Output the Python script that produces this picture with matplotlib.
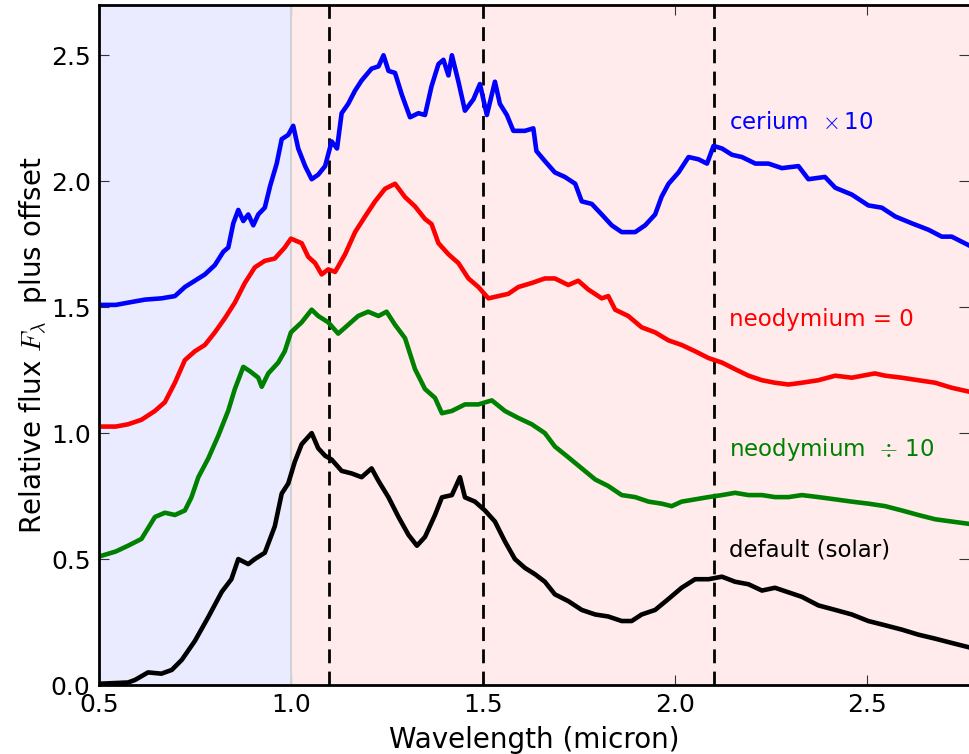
import matplotlib.pyplot as plt

plt.rcParams['mathtext.fontset'] = 'cm'

wl_solar = [0.5, 0.576, 0.594, 0.628, 0.663, 0.69, 0.716, 0.75, 0.785, 0.82, 0.845, 0.863,
            0.889, 0.906, 0.932, 0.958, 0.976, 0.993, 1.01, 1.028, 1.054, 1.071, 1.089,
            1.106, 1.132, 1.158, 1.184, 1.21, 1.228, 1.254, 1.28, 1.306, 1.328, 1.349,
            1.375, 1.393, 1.419, 1.44, 1.453, 1.479, 1.505, 1.531, 1.557, 1.583, 1.609,
            1.635, 1.661, 1.687, 1.722, 1.757, 1.792, 1.826, 1.861, 1.887, 1.913, 1.948,
            1.983, 2.017, 2.052, 2.087, 2.122, 2.156, 2.191, 2.226, 2.26, 2.295, 2.33,
            2.373, 2.417, 2.46, 2.503, 2.547, 2.59, 2.633, 2.677, 2.72, 2.764]
flux_solar = [0.005, 0.01, 0.02, 0.05, 0.045, 0.06, 0.1, 0.175, 0.27, 0.37, 0.42, 0.5,
              0.48, 0.5, 0.525, 0.63, 0.76, 0.8, 0.886, 0.956, 1.0, 0.94, 0.91,
              0.895, 0.85, 0.84, 0.825, 0.86, 0.81, 0.745, 0.667, 0.596, 0.553, 0.588,
              0.675, 0.745, 0.754, 0.825, 0.745, 0.728, 0.693, 0.649, 0.57, 0.5, 0.465,
              0.44, 0.41, 0.36, 0.333, 0.298, 0.28, 0.272, 0.254, 0.254, 0.28, 0.298,
              0.342, 0.386, 0.42, 0.42, 0.43, 0.41, 0.4, 0.375, 0.386, 0.368, 0.35,
              0.316, 0.298, 0.28, 0.254, 0.237, 0.22, 0.2, 0.184, 0.167, 0.15]

wl_nd_div = [0.5, 0.544, 0.576, 0.611, 0.646, 0.672, 0.698, 0.724, 0.741, 0.759, 0.785,
             0.811, 0.837, 0.854, 0.876, 0.894, 0.915, 0.924, 0.941, 0.967, 0.984, 1.0,
             1.028, 1.054, 1.071, 1.097, 1.123, 1.149, 1.175, 1.201, 1.228, 1.249, 1.271,
             1.297, 1.323, 1.349, 1.375, 1.393, 1.419, 1.453, 1.488, 1.523, 1.557, 1.592,
             1.627, 1.661, 1.687, 1.722, 1.757, 1.792, 1.826, 1.861, 1.896, 1.931, 1.965,
             1.991, 2.017, 2.052, 2.087, 2.122, 2.156, 2.191, 2.226, 2.26, 2.295, 2.33,
             2.373, 2.417, 2.46, 2.503, 2.547, 2.59, 2.633, 2.677, 2.72, 2.764]
flux_nd_div = [0.51, 0.53, 0.553, 0.58, 0.667, 0.684, 0.675, 0.693, 0.745, 0.825, 0.9,
               0.99, 1.09, 1.175, 1.263, 1.245, 1.22, 1.184, 1.237, 1.28, 1.325, 1.4,
               1.44, 1.49, 1.465, 1.44, 1.395, 1.43, 1.465, 1.482, 1.465, 1.482, 1.43,
               1.377, 1.254, 1.175, 1.14, 1.079, 1.088, 1.114, 1.114, 1.13, 1.088, 1.06,
               1.035, 1.0, 0.947, 0.904, 0.86, 0.816, 0.79, 0.754, 0.746, 0.728, 0.72,
               0.71, 0.728, 0.737, 0.746, 0.754, 0.763, 0.754, 0.754, 0.746, 0.746, 0.754,
               0.746, 0.737, 0.728, 0.72, 0.71, 0.693, 0.675, 0.658, 0.649, 0.64]

wl_nd_zero = [0.5, 0.544, 0.576, 0.611, 0.646, 0.672, 0.698, 0.724, 0.75, 0.776, 0.802,
              0.828, 0.854, 0.88, 0.906, 0.932, 0.958, 0.984, 1.0, 1.028, 1.045, 1.063,
              1.08, 1.097, 1.115, 1.141, 1.167, 1.193, 1.219, 1.245, 1.271, 1.297, 1.323,
              1.349, 1.366, 1.384, 1.41, 1.436, 1.462, 1.488, 1.514, 1.54, 1.566, 1.592,
              1.627, 1.661, 1.687, 1.722, 1.748, 1.774, 1.809, 1.826, 1.844, 1.878, 1.913,
              1.948, 1.983, 2.017, 2.052, 2.087, 2.122, 2.156, 2.191, 2.226, 2.26, 2.295,
              2.33, 2.373, 2.417, 2.46, 2.52, 2.547, 2.59, 2.633, 2.677, 2.72, 2.764]
flux_nd_zero = [1.026, 1.026, 1.035, 1.053, 1.088, 1.123, 1.2, 1.29, 1.325, 1.35, 1.4,
                1.456, 1.518, 1.596, 1.658, 1.684, 1.693, 1.737, 1.772, 1.754, 1.7, 1.675,
                1.63, 1.65, 1.64, 1.71, 1.798, 1.86, 1.92, 1.97, 1.99, 1.937, 1.9,
                1.85, 1.83, 1.754, 1.71, 1.675, 1.614, 1.58, 1.535, 1.544, 1.553, 1.58,
                1.596, 1.614, 1.614, 1.588, 1.605, 1.57, 1.535, 1.544, 1.49, 1.465, 1.42,
                1.4, 1.368, 1.35, 1.325, 1.298, 1.28, 1.254, 1.228, 1.21, 1.2, 1.193,
                1.2, 1.21, 1.228, 1.22, 1.237, 1.228, 1.22, 1.21, 1.2, 1.18, 1.165]

wl_ce = [0.5, 0.544, 0.576, 0.62, 0.663, 0.698, 0.724, 0.75, 0.776, 0.802, 0.824, 0.837,
         0.85, 0.863, 0.876, 0.889, 0.902, 0.915, 0.932, 0.946, 0.963, 0.976, 0.993,
         1.006, 1.019, 1.037, 1.054, 1.071, 1.089, 1.106, 1.12, 1.132, 1.149, 1.167,
         1.184, 1.21, 1.228, 1.241, 1.254, 1.271, 1.289, 1.31, 1.332, 1.349, 1.366,
         1.384, 1.397, 1.41, 1.419, 1.436, 1.453, 1.475, 1.492, 1.51, 1.531, 1.544,
         1.562, 1.579, 1.609, 1.631, 1.639, 1.661, 1.687, 1.713, 1.74, 1.757, 1.783,
         1.809, 1.835, 1.861, 1.896, 1.922, 1.948, 1.965, 1.983, 2.009, 2.035, 2.061,
         2.083, 2.1, 2.122, 2.148, 2.174, 2.209, 2.243, 2.278, 2.321, 2.347, 2.39,
         2.417, 2.46, 2.503, 2.538, 2.573, 2.616, 2.66, 2.694, 2.72, 2.764]
flux_ce = [1.509, 1.509, 1.518, 1.53, 1.535, 1.544, 1.58, 1.605, 1.63, 1.667, 1.72, 1.737,
           1.833, 1.886, 1.842, 1.868, 1.825, 1.868, 1.895, 1.982, 2.07, 2.167, 2.184,
           2.22, 2.13, 2.06, 2.008, 2.026, 2.06, 2.158, 2.13, 2.27, 2.307, 2.36,
           2.4, 2.447, 2.456, 2.5, 2.438, 2.43, 2.342, 2.254, 2.27, 2.263, 2.377,
           2.465, 2.482, 2.42, 2.5, 2.395, 2.28, 2.325, 2.386, 2.263, 2.395, 2.307,
           2.263, 2.2, 2.2, 2.21, 2.12, 2.08, 2.035, 2.017, 1.99, 1.92, 1.91,
           1.868, 1.825, 1.798, 1.798, 1.825, 1.868, 1.939, 1.99, 2.035, 2.096, 2.087,
           2.07, 2.14, 2.13, 2.105, 2.096, 2.07, 2.07, 2.052, 2.06, 2.008, 2.017,
           1.974, 1.947, 1.904, 1.895, 1.86, 1.833, 1.807, 1.78, 1.78, 1.746]

feature_lines = [1.1, 1.5, 2.1]

fig = plt.figure(figsize=(9.69, 7.54), dpi=100)
ax = fig.add_axes([0.102, 0.0915, 0.898, 0.902])

# optical / infrared shading
ax.axvspan(0.5, 1.0, color='blue', alpha=0.08, lw=0)
ax.axvspan(1.0, 3.0, color='red', alpha=0.08, lw=0)
ax.axvline(1.0, color='lightgray', lw=1.5)

for xv in feature_lines:
    ax.axvline(xv, color='k', ls=(0, (5, 3)), lw=2)

ax.plot(wl_ce, flux_ce, color='b', lw=3.3)
ax.plot(wl_nd_zero, flux_nd_zero, color='r', lw=3.3)
ax.plot(wl_nd_div, flux_nd_div, color='g', lw=3.3)
ax.plot(wl_solar, flux_solar, color='k', lw=3.3)

ax.text(2.14, 2.235, r'cerium  $\times\,$10', color='b', fontsize=16.5, va='center')
ax.text(2.14, 1.45, 'neodymium = 0', color='r', fontsize=16.5, va='center')
ax.text(2.14, 0.935, r'neodymium  $\div$ 10', color='g', fontsize=16.5, va='center')
ax.text(2.14, 0.537, 'default (solar)', color='k', fontsize=16.5, va='center')

ax.set_xlim(0.5, 2.765)
ax.set_ylim(0.0, 2.7)
ax.set_xticks([0.5, 1.0, 1.5, 2.0, 2.5])
ax.set_yticks([0.0, 0.5, 1.0, 1.5, 2.0, 2.5])
ax.tick_params(direction='in', length=7, width=0.8, color='#333333', labelsize=18,
               top=True, right=True, pad=6)
for s in ax.spines.values():
    s.set_linewidth(2)
ax.spines['right'].set_visible(False)

ax.set_xlabel('Wavelength (micron)', fontsize=20, labelpad=6)
ax.set_ylabel(r'Relative flux $F_\lambda$  plus offset', fontsize=20, labelpad=1)

fig.savefig('out.png', dpi=100)
